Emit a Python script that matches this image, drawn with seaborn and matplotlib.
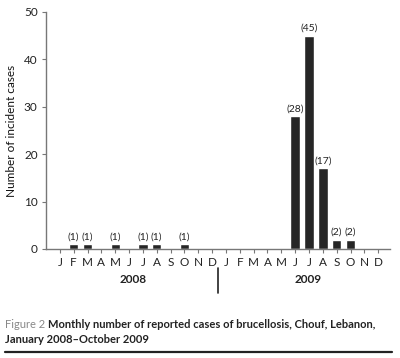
import seaborn as sns
import pandas as pd
import matplotlib.pyplot as plt
from matplotlib.lines import Line2D

sns.set_style('ticks')
plt.rcParams['font.family'] = ['Lato', 'DejaVu Sans']

month_letters = ['J', 'F', 'M', 'A', 'M', 'J', 'J', 'A', 'S', 'O', 'N', 'D']
years = ['2008', '2009']
cases_2008 = [0, 1, 1, 0, 1, 0, 1, 1, 0, 1, 0, 0]
cases_2009 = [0, 0, 0, 0, 0, 28, 45, 17, 2, 2, 0, 0]

df = pd.DataFrame({
    'month': list(range(24)),
    'cases': cases_2008 + cases_2009,
})

fig = plt.figure(figsize=(4, 3.58), dpi=100)
ax = fig.add_axes([0.115, 0.3045, 0.86, 0.662])

sns.barplot(data=df, x='month', y='cases', order=list(range(24)),
            color='#262626', width=0.68, saturation=1, ax=ax)

for i, v in enumerate(df['cases']):
    if v > 0:
        ax.text(i, v + 0.6, f'({v})', ha='center', va='bottom',
                fontsize=7.5, color='#222222')

ax.set_xlim(-1, 23.85)
ax.set_ylim(0, 50)
ax.set_yticks([0, 10, 20, 30, 40, 50])
ax.set_xticks(range(24))
ax.set_xticklabels(month_letters * 2)
ax.tick_params(axis='both', labelsize=8.5, length=3, width=0.8,
               color='#777777', labelcolor='#222222', pad=3)
ax.set_xlabel('')
ax.set_ylabel('Number of incident cases', fontsize=8.5, color='#111111', labelpad=5)
for s in ['top', 'right']:
    ax.spines[s].set_visible(False)
for s in ['left', 'bottom']:
    ax.spines[s].set_color('#777777')
    ax.spines[s].set_linewidth(1.0)

trans = ax.get_xaxis_transform()
ax.text(5.3, -0.13, years[0], transform=trans, ha='center', va='center',
        fontsize=8.5, fontweight='bold', color='#222222')
ax.text(17.9, -0.13, years[1], transform=trans, ha='center', va='center',
        fontsize=8.5, fontweight='bold', color='#222222')
ax.add_line(Line2D([11.45, 11.45], [-0.08, -0.185], transform=trans,
                   color='#222222', lw=1.2, clip_on=False))

t1 = fig.text(0.0125, 0.085, 'Figure 2 ', fontsize=8, color='#888888', va='baseline')
ax.annotate('Monthly number of reported cases of brucellosis, Chouf, Lebanon,',
            xy=(1, 0), xycoords=t1, va='bottom', ha='left',
            fontsize=8, fontweight='bold', color='#222222')
fig.text(0.0125, 0.043, 'January 2008\u2013October 2009', fontsize=8,
         fontweight='bold', color='#222222', va='baseline')
fig.add_artist(Line2D([0.0125, 0.98], [0.017, 0.017], transform=fig.transFigure,
                      color='#222222', lw=1.6))

fig.savefig('out.png', dpi=100)
